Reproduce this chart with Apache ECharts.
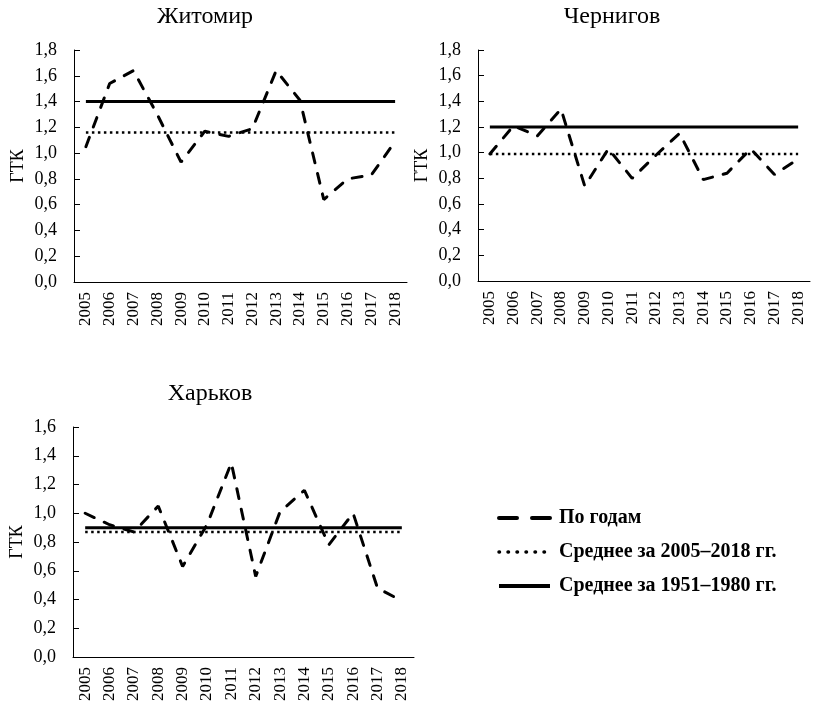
<!DOCTYPE html>
<html>
<head>
<meta charset="utf-8">
<script src="https://cdn.jsdelivr.net/npm/echarts@6/dist/echarts.min.js"></script>
<style>
  html, body { margin: 0; padding: 0; background: #fff; }
  #chart { width: 813px; height: 714px; }
</style>
</head>
<body>
<div id="chart"></div>
<script>
// Years on the category axis
const years = ['2005','2006','2007','2008','2009','2010','2011','2012','2013','2014','2015','2016','2017','2018'];

// Hydrothermal coefficient (ГТК) by year
const zhytomyrYearly  = [1.05, 1.54, 1.64, 1.30, 0.93, 1.17, 1.13, 1.19, 1.64, 1.41, 0.64, 0.80, 0.83, 1.09];
const chernihivYearly = [0.99, 1.21, 1.13, 1.34, 0.74, 1.03, 0.80, 0.98, 1.15, 0.79, 0.84, 1.03, 0.83, 0.95];
const kharkivYearly   = [1.00, 0.92, 0.87, 1.05, 0.63, 0.92, 1.35, 0.56, 1.01, 1.16, 0.78, 1.00, 0.48, 0.39];

// Mean values for the two reference periods
const zhytomyrMean0518  = 1.16, zhytomyrMean5180  = 1.40;
const chernihivMean0518 = 0.99, chernihivMean5180 = 1.20;
const kharkivMean0518   = 0.87, kharkivMean5180   = 0.90;

const cityNames = ['Житомир', 'Чернигов', 'Харьков'];
const seriesNames = ['По годам', 'Среднее за 2005–2018 гг.', 'Среднее за 1951–1980 гг.'];

const FONT = '"Liberation Serif", "DejaVu Serif", serif';

const cities = [
  { name: cityNames[0], yearly: zhytomyrYearly,  m1: zhytomyrMean0518,  m2: zhytomyrMean5180,  max: 1.8,
    grid: { left: 74, top: 50, width: 333, height: 232 }, titleX: 205, titleY: 5 },
  { name: cityNames[1], yearly: chernihivYearly, m1: chernihivMean0518, m2: chernihivMean5180, max: 1.8,
    grid: { left: 478, top: 50, width: 332, height: 231 }, titleX: 612, titleY: 5 },
  { name: cityNames[2], yearly: kharkivYearly,   m1: kharkivMean0518,   m2: kharkivMean5180,   max: 1.6,
    grid: { left: 73, top: 427, width: 341, height: 230 }, titleX: 210, titleY: 382 }
];

const dashStyle   = { color: '#000', width: 3, type: [10, 11], cap: 'round' };
const dottedStyle = { color: '#000', width: 2.5, type: [2.5, 3.5], cap: 'butt' };
const solidStyle  = { color: '#000', width: 3, type: 'solid' };

const grids = [], xAxes = [], yAxes = [], series = [], titles = [];

cities.forEach((c, i) => {
  grids.push(Object.assign({ containLabel: false }, c.grid));
  titles.push({
    text: c.name, left: c.titleX, top: c.titleY, textAlign: 'center', padding: 0,
    textStyle: { fontFamily: FONT, fontSize: 24, fontWeight: 'normal', color: '#000' }
  });
  xAxes.push({
    type: 'category', gridIndex: i, data: years, boundaryGap: true,
    axisLine: { lineStyle: { color: '#000', width: 1 } },
    axisTick: { inside: true, length: 6, lineStyle: { color: '#000' } },
    axisLabel: { rotate: 90, margin: 10, interval: 0, fontFamily: FONT, fontSize: 17, color: '#000' },
    splitLine: { show: false }
  });
  yAxes.push({
    type: 'value', gridIndex: i, min: 0, max: c.max, interval: 0.2,
    name: 'ГТК', nameLocation: 'middle', nameRotate: 90, nameGap: 47,
    nameTextStyle: { fontFamily: FONT, fontSize: 18, color: '#000' },
    axisLine: { show: true, lineStyle: { color: '#000', width: 1 } },
    axisTick: { show: true, inside: true, length: 6, lineStyle: { color: '#000' } },
    axisLabel: { margin: 17, fontFamily: FONT, fontSize: 18, color: '#000',
      formatter: v => v.toFixed(1).replace('.', ',') },
    splitLine: { show: false }
  });
  series.push({
    name: seriesNames[0], type: 'line', xAxisIndex: i, yAxisIndex: i,
    data: c.yearly, symbol: 'none', lineStyle: dashStyle, itemStyle: { color: '#000' }, z: 3
  });
  series.push({
    name: seriesNames[1], type: 'line', xAxisIndex: i, yAxisIndex: i,
    data: years.map(() => c.m1), symbol: 'none', lineStyle: dottedStyle, itemStyle: { color: '#000' }, z: 2
  });
  series.push({
    name: seriesNames[2], type: 'line', xAxisIndex: i, yAxisIndex: i,
    data: years.map(() => c.m2), symbol: 'none', lineStyle: solidStyle, itemStyle: { color: '#000' }, z: 2
  });
});

const chart = echarts.init(document.getElementById('chart'), null, { renderer: 'canvas' });
chart.setOption({
  animation: false,
  backgroundColor: '#fff',
  title: titles,
  legend: {
    orient: 'vertical', left: 492, top: 503,
    itemWidth: 51, itemHeight: 16, itemGap: 14,
    itemStyle: { opacity: 0 },
    textStyle: { fontFamily: FONT, fontSize: 20, fontWeight: 'bold', color: '#000', padding: [0, 0, 0, 4] },
    data: [
      { name: seriesNames[0], lineStyle: { width: 4, type: [18, 15], cap: 'round' } },
      { name: seriesNames[1], lineStyle: { width: 3.5, type: [0.5, 8.5], cap: 'round' } },
      { name: seriesNames[2], lineStyle: { width: 4 } }
    ]
  },
  grid: grids,
  xAxis: xAxes,
  yAxis: yAxes,
  series: series
});
</script>
</body>
</html>
